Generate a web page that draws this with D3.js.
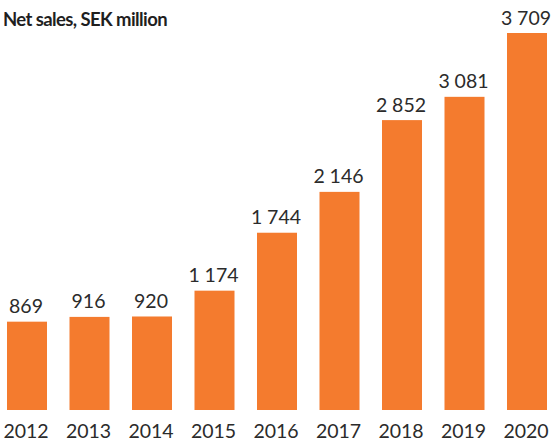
<!DOCTYPE html>
<html>
<head>
<meta charset="utf-8">
<script src="https://cdn.jsdelivr.net/npm/d3@7"></script>
<style>
html,body{margin:0;padding:0;background:#fff;}
svg{display:block;}
</style>
</head>
<body>
<svg id="chart" width="553" height="441"></svg>
<script>
const years = ["2012","2013","2014","2015","2016","2017","2018","2019","2020"];
const netSales = [869, 916, 920, 1174, 1744, 2146, 2852, 3081, 3709];
const valueLabels = ["869","916","920","1\u2005174","1\u2005744","2\u2005146","2\u2005852","3\u2005081","3\u2005709"];
const title = "Net sales, SEK million";

const svg = d3.select("#chart");
const x = d3.scaleBand().domain(years).range([7, 547]).paddingInner(0.36).paddingOuter(0);
const y = d3.scaleLinear().domain([0, 3709]).range([410, 33]);
const orange = "#F47B2E";
const textCol = "#2b2b2b";
const font = "Lato, 'Open Sans', sans-serif";

svg.append("text")
  .attr("x", 3).attr("y", 26)
  .attr("font-family", font).attr("font-weight", 700)
  .attr("font-size", 18.5).attr("fill", "#1f1f1f")
  .attr("letter-spacing", -0.6)
  .text(title);

const data = years.map((yr, i) => ({yr, v: netSales[i], lab: valueLabels[i]}));

svg.selectAll("rect.bar").data(data).join("rect")
  .attr("class", "bar")
  .attr("x", d => x(d.yr)).attr("width", x.bandwidth())
  .attr("y", d => y(d.v)).attr("height", d => y(0) - y(d.v))
  .attr("fill", orange);

svg.selectAll("text.val").data(data).join("text")
  .attr("class", "val")
  .attr("x", d => x(d.yr) + x.bandwidth() / 2 - 1)
  .attr("y", d => y(d.v) - 8.5)
  .attr("text-anchor", "middle")
  .attr("font-family", font).attr("font-size", 19.5).attr("fill", textCol)
  .text(d => d.lab);

svg.selectAll("text.yr").data(data).join("text")
  .attr("class", "yr")
  .attr("x", d => x(d.yr) + x.bandwidth() / 2 - 1)
  .attr("y", 438)
  .attr("text-anchor", "middle")
  .attr("font-family", font).attr("font-size", 19.5).attr("fill", textCol)
  .text(d => d.yr);
</script>
</body>
</html>
